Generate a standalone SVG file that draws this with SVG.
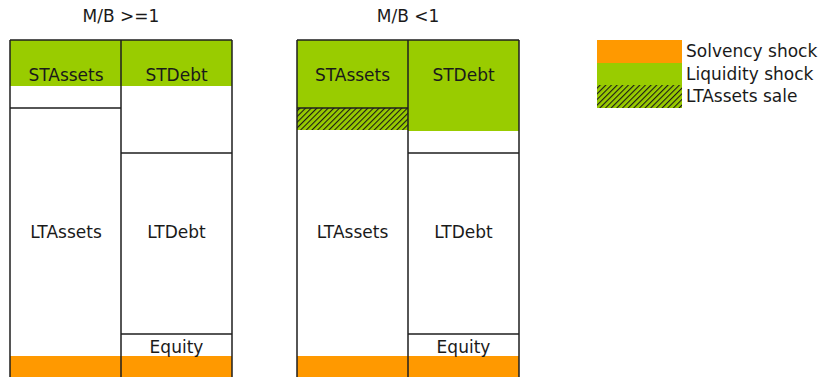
<svg xmlns="http://www.w3.org/2000/svg" width="823" height="377" viewBox="0 0 823 377">
  <style>
    text { font-family: "DejaVu Sans", Verdana, sans-serif; font-size: 17px; fill: #1a1a1a; }
    .mid { text-anchor: middle; }
    .solv { fill: #ff9900; }
    .liq { fill: #99cc00; }
    .sale { fill: url(#hatch); }
    .edge { stroke: #1f1f1f; stroke-width: 1.5; fill: none; }
  </style>
  <defs>
    <pattern id="hatch" patternUnits="userSpaceOnUse" width="4" height="4" patternTransform="rotate(45)">
      <rect width="4" height="4" fill="#99cc00"/>
      <line x1="0" y1="0" x2="0" y2="4" stroke="#1a1a1a" stroke-width="2.2"/>
    </pattern>
  </defs>

  <rect width="823" height="377" fill="#ffffff"/>

  <!-- Balance sheet when M/B >= 1 -->
  <g id="sheet-high">
    <text class="mid" x="121" y="22">M/B &gt;=1</text>
    <rect class="liq" x="10" y="40" width="222" height="46"/>
    <rect class="solv" x="10" y="356" width="222" height="21"/>
    <path class="edge" d="M10,40 H232 M10,40 V377 M121,40 V377 M232,40 V377 M10,108 H121 M121,153 H232 M121,334 H232"/>
    <text class="mid" x="66" y="81">STAssets</text>
    <text class="mid" x="176.5" y="81">STDebt</text>
    <text class="mid" x="66" y="238">LTAssets</text>
    <text class="mid" x="176.5" y="238">LTDebt</text>
    <text class="mid" x="176.5" y="353">Equity</text>
  </g>

  <!-- Balance sheet when M/B < 1 -->
  <g id="sheet-low">
    <text class="mid" x="408" y="22">M/B &lt;1</text>
    <rect class="liq" x="297" y="40" width="111" height="68"/>
    <rect class="sale" x="297" y="108" width="111" height="22"/>
    <rect class="liq" x="408" y="40" width="111" height="91"/>
    <rect class="solv" x="297" y="356" width="222" height="21"/>
    <path class="edge" d="M297,40 H519 M297,40 V377 M408,40 V377 M519,40 V377 M297,108 H408 M408,153 H519 M408,334 H519"/>
    <text class="mid" x="352.5" y="81">STAssets</text>
    <text class="mid" x="463.5" y="81">STDebt</text>
    <text class="mid" x="352.5" y="238">LTAssets</text>
    <text class="mid" x="463.5" y="238">LTDebt</text>
    <text class="mid" x="463.5" y="353">Equity</text>
  </g>

  <!-- Legend -->
  <g id="legend">
    <rect class="solv" x="597" y="40" width="85" height="23"/>
    <rect class="liq" x="597" y="63" width="85" height="22"/>
    <rect class="sale" x="597" y="85" width="85" height="23"/>
    <text x="686" y="57">Solvency shock</text>
    <text x="686" y="80">Liquidity shock</text>
    <text x="686" y="102">LTAssets sale</text>
  </g>
</svg>
